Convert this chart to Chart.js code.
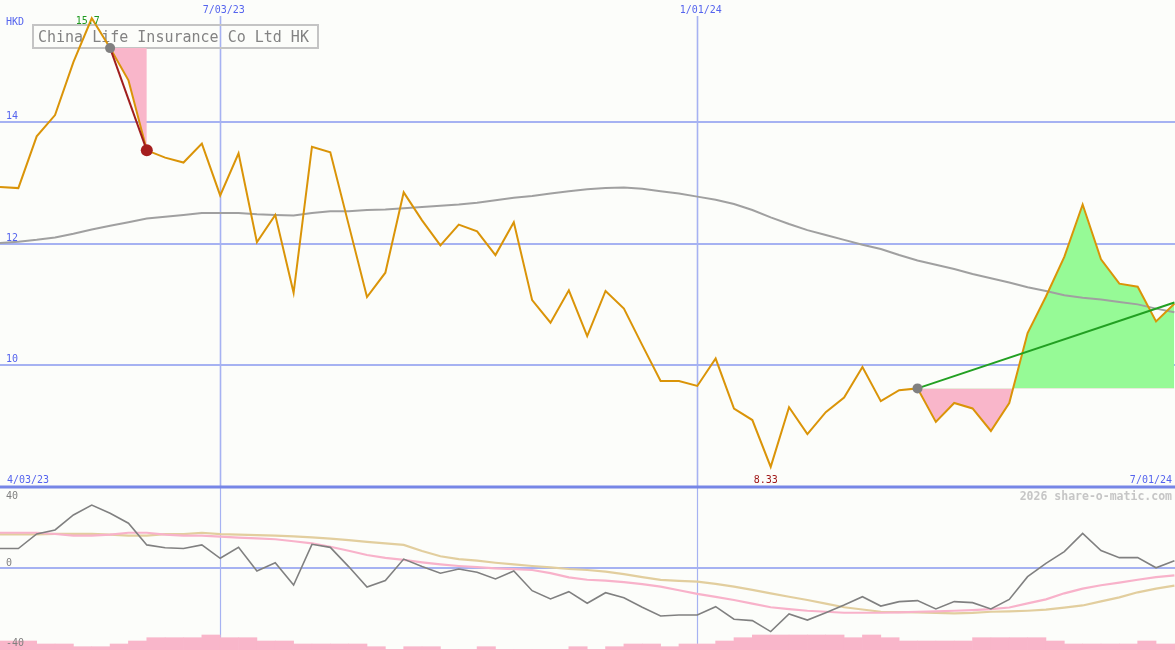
<!DOCTYPE html>
<html><head><meta charset="utf-8">
<script src="https://cdn.jsdelivr.net/npm/chart.js@4.4.1/dist/chart.umd.min.js"></script>
<style>html,body{margin:0;padding:0;background:#fcfdfa;overflow:hidden}#wrap{position:relative;width:1175px;height:650px}canvas{display:block}</style>
</head><body><div id="wrap"><canvas id="c" width="1175" height="650"></canvas></div>
<script>
// ---------- data (weekly, index 0 .. 64) ----------
const title = 'China Life Insurance Co Ltd HK';
const currency = 'HKD';
const priceValues = [12.93,12.91,13.76,14.11,14.98,15.70,15.21,14.68,13.53,13.41,
  13.33,13.64,12.79,13.48,12.02,12.47,11.19,13.59,13.50,12.31,
  11.12,11.52,12.84,12.38,11.97,12.31,12.20,11.81,12.35,11.07,
  10.70,11.23,10.48,11.22,10.93,10.33,9.74,9.74,9.66,10.11,
  9.29,9.10,8.33,9.31,8.87,9.23,9.47,9.97,9.41,9.59,
  9.62,9.07,9.38,9.29,8.92,9.38,10.53,11.13,11.78,12.64,
  11.74,11.34,11.29,10.72,11.01];
const maValues = [12.01,12.03,12.06,12.10,12.16,12.23,12.29,12.35,12.41,12.44,
  12.47,12.50,12.50,12.50,12.48,12.47,12.46,12.50,12.53,12.53,
  12.55,12.56,12.58,12.60,12.62,12.64,12.67,12.71,12.75,12.78,
  12.82,12.86,12.89,12.91,12.92,12.90,12.86,12.82,12.77,12.72,
  12.65,12.55,12.43,12.32,12.22,12.14,12.06,11.98,11.91,11.81,
  11.72,11.65,11.58,11.50,11.43,11.36,11.28,11.22,11.15,11.11,
  11.08,11.04,11.00,10.93,10.87];
const oscValues = [9.6,9.6,16.8,18.8,26.2,31.1,27.0,22.1,11.4,10.0,
  9.6,11.4,4.8,10.2,-1.5,2.6,-8.4,11.7,10.2,0.7,
  -9.4,-6.2,4.4,0.7,-2.6,-0.5,-2.1,-5.4,-1.5,-11.2,
  -15.3,-11.7,-17.4,-12.2,-14.7,-19.4,-23.7,-23.2,-23.2,-19.1,
  -25.3,-26.0,-31.4,-22.7,-25.7,-22.1,-18.3,-14.2,-18.8,-16.6,
  -16.1,-20.2,-16.6,-17.1,-20.2,-15.5,-4.3,2.3,8.1,17.1,
  8.6,5.1,5.1,0.1,3.6];
const oscFast = [17.4,17.4,17.4,16.8,16.0,16.0,16.5,17.4,17.4,16.5,
  16.0,16.0,15.5,15.0,14.6,14.2,13.2,12.2,10.5,8.5,
  6.4,5.0,4.0,2.8,1.8,1.0,0.4,-0.2,-0.6,-1.0,
  -2.5,-4.6,-5.8,-6.2,-7.0,-8.0,-9.2,-11.0,-12.8,-14.3,
  -15.8,-17.6,-19.4,-20.3,-21.1,-21.6,-22.1,-22.1,-22.1,-21.9,
  -21.6,-21.4,-21.1,-20.8,-20.3,-19.5,-17.5,-15.5,-12.5,-10.2,
  -8.5,-7.2,-5.8,-4.5,-3.6];
const oscSlow = [16.6,16.6,16.6,16.9,16.9,16.9,16.5,16.0,16.0,16.7,
  16.7,17.4,16.7,16.5,16.2,16.0,15.6,15.1,14.5,13.8,
  12.9,12.2,11.4,8.4,5.8,4.4,3.6,2.6,1.8,1.0,
  0.3,-0.5,-1.0,-1.8,-3.0,-4.5,-5.9,-6.4,-6.7,-7.8,
  -9.2,-10.8,-12.5,-14.2,-15.8,-17.6,-19.4,-20.5,-21.6,-21.8,
  -21.9,-22.2,-22.4,-22.2,-21.6,-21.4,-21.1,-20.6,-19.6,-18.5,
  -16.5,-14.5,-12.0,-10.2,-8.7];
const volumeValues = [3,3,2,2,1.1,1.1,2,3,4.1,4.1,
  4.1,5,4.1,4.1,3,3,2,2,2,2,
  1.1,0.2,1.1,1.1,0.2,0.2,1.1,0.2,0.2,0.2,
  0.2,1.1,0.2,1.1,2,2,1.1,2,2,3,
  4.1,5,5,5,5,5,4.1,5,4.1,3,
  3,3,3,4.1,4.1,4.1,4.1,3,2,2,
  2,2,3,2,2];
const dateTickLabels = ['7/03/23','1/01/24'];
const dateTickIdx = [12,38];
const startLabel = '4/03/23';
const endLabel = '7/01/24';
const priceTicks = [10,12,14];
const oscTicks = [40,0,-40];
const highLabel = '15.7', highIdx = 5;
const lowLabel = '8.33', lowIdx = 42;
const sigDownStart = 6, sigDownEnd = 8;
const sigUpStart = 50, sigUpEnd = 64, sigUpEndValue = 11.03;
const credit = '2026 share-o-matic.com';

// ---------- layout / style ----------
const W = 1175, H = 650;
const PX_PER_IDX = 18.35;
const MAIN_BOTTOM = 487;
const PRICE_TOP = 16, PRICE_BOTTOM = 8;
const OSC_ZERO_Y = 568, OSC_PX = 81/40;
const VOL_PX = 3;
const GRID = '#a6b2f2', SEP = '#7686e6', LBL = '#5564ee';
const MONO = '"DejaVu Sans Mono", "Liberation Mono", monospace';

const pts = arr => arr.map((v,i)=>({x:i,y:v}));
const sub = (arr,a,b) => arr.slice(a,b+1).map((v,k)=>({x:a+k,y:v}));

const deco = {
  id:'deco',
  beforeDatasetsDraw(chart){
    const {ctx} = chart, x = chart.scales.x, y = chart.scales.y, yo = chart.scales.yo;
    const ln = (a,b,c,d)=>{ctx.beginPath();ctx.moveTo(a,b);ctx.lineTo(c,d);ctx.stroke();};
    ctx.save();
    ctx.strokeStyle = GRID; ctx.lineWidth = 2;
    priceTicks.forEach(v=>{const p=Math.round(y.getPixelForValue(v)); ln(0,p,W,p);});
    const sepY = Math.round(y.getPixelForValue(PRICE_BOTTOM));
    dateTickIdx.forEach(i=>{
      const p = Math.round(x.getPixelForValue(i))+0.5;
      ctx.lineWidth = 1.6; ln(p,16,p,sepY);
      ctx.lineWidth = 1.2; ln(p,sepY,p,H);
    });
    ctx.lineWidth = 2;
    const z = Math.round(yo.getPixelForValue(0)); ln(0,z,W,z);
    ctx.strokeStyle = SEP; ctx.lineWidth = 3; ln(0,sepY,W,sepY);
    // title box
    ctx.strokeStyle = '#c4c4c4'; ctx.lineWidth = 2;
    ctx.strokeRect(33,25,285,23);
    ctx.fillStyle = '#838383'; ctx.font = '15px '+MONO; ctx.textBaseline = 'alphabetic'; ctx.textAlign='left';
    ctx.fillText(title,38,41.5);
    ctx.restore();
  },
  afterDatasetsDraw(chart){
    const {ctx} = chart, x = chart.scales.x, y = chart.scales.y, yo = chart.scales.yo;
    ctx.save();
    ctx.font = '10px '+MONO; ctx.textBaseline='alphabetic';
    ctx.fillStyle = LBL; ctx.textAlign='left';
    ctx.fillText(currency,6,25);
    priceTicks.forEach(v=>ctx.fillText(String(v),6,Math.round(y.getPixelForValue(v))-3));
    const sepY = y.getPixelForValue(PRICE_BOTTOM);
    ctx.fillText(startLabel,7,sepY-4);
    ctx.textAlign='right'; ctx.fillText(endLabel,W-3,sepY-4);
    ctx.textAlign='center';
    dateTickIdx.forEach((i,k)=>ctx.fillText(dateTickLabels[k],x.getPixelForValue(i)+3.5,13));
    ctx.fillStyle = '#1f9a1f';
    ctx.fillText(highLabel,x.getPixelForValue(highIdx)-4,y.getPixelForValue(priceValues[highIdx])+6);
    ctx.fillStyle = '#a01818';
    ctx.fillText(lowLabel,x.getPixelForValue(lowIdx)-5,y.getPixelForValue(priceValues[lowIdx])+16);
    ctx.fillStyle = '#808080'; ctx.textAlign='left';
    ctx.fillText('40',6,499);
    ctx.fillText('0',6,Math.round(yo.getPixelForValue(0))-2.5);
    ctx.fillText('-40',6,646);
    ctx.fillStyle = '#c6c6c6'; ctx.textAlign='right'; ctx.font='bold 11.5px '+MONO;
    ctx.fillText(credit,W-3,500);
    ctx.restore();
  }
};

const ds = [
  {type:'bar', data:volumeValues.map((v,i)=>({x:i+0.5,y:v})), yAxisID:'yv', backgroundColor:'rgb(249,182,202)', borderWidth:0, barPercentage:1, categoryPercentage:1, order:9},
  {type:'line', data:sub(priceValues,sigDownStart,sigDownEnd), fill:{target:{value:priceValues[sigDownStart]}, above:'rgb(249,182,202)', below:'rgb(249,182,202)'}, borderWidth:0, borderColor:'rgba(0,0,0,0)', pointRadius:0, tension:0, yAxisID:'y', order:8},
  {type:'line', data:sub(priceValues,sigUpStart,sigUpEnd), fill:{target:{value:priceValues[sigUpStart]}, above:'rgb(150,250,150)', below:'rgb(249,182,202)'}, borderWidth:0, borderColor:'rgba(0,0,0,0)', pointRadius:0, tension:0, yAxisID:'y', order:8},
  {type:'line', data:pts(oscSlow), borderColor:'rgb(226,206,158)', borderWidth:2.2, pointRadius:0, fill:false, yAxisID:'yo', order:6},
  {type:'line', data:pts(oscFast), borderColor:'rgb(248,178,202)', borderWidth:2.2, pointRadius:0, fill:false, yAxisID:'yo', order:5},
  {type:'line', data:pts(oscValues), borderColor:'rgb(128,128,128)', borderWidth:1.6, pointRadius:0, fill:false, yAxisID:'yo', order:4},
  {type:'line', data:pts(maValues), borderColor:'rgb(160,160,160)', borderWidth:2, pointRadius:0, fill:false, yAxisID:'y', order:4},
  {type:'line', data:pts(priceValues), borderColor:'rgb(218,148,8)', borderWidth:2, pointRadius:0, fill:false, yAxisID:'y', order:3},
  {type:'line', data:[{x:sigDownStart,y:priceValues[sigDownStart]},{x:sigDownEnd,y:priceValues[sigDownEnd]}], borderColor:'rgb(160,30,30)', borderWidth:2, pointRadius:0, fill:false, yAxisID:'y', order:2},
  {type:'line', data:[{x:sigUpStart,y:priceValues[sigUpStart]},{x:sigUpEnd,y:sigUpEndValue}], borderColor:'rgb(34,160,34)', borderWidth:2, pointRadius:0, fill:false, yAxisID:'y', order:2},
  {type:'scatter', data:[{x:sigDownStart,y:priceValues[sigDownStart]},{x:sigUpStart,y:priceValues[sigUpStart]}], pointRadius:5, pointBackgroundColor:'rgb(128,128,128)', pointBorderWidth:0, yAxisID:'y', order:1},
  {type:'scatter', data:[{x:sigDownEnd,y:priceValues[sigDownEnd]}], pointRadius:6, pointBackgroundColor:'rgb(165,30,30)', pointBorderWidth:0, yAxisID:'y', order:0}
];

const yMin = PRICE_TOP - H*(PRICE_TOP-PRICE_BOTTOM)/MAIN_BOTTOM;
new Chart(document.getElementById('c'), {
  type:'line',
  data:{datasets:ds},
  options:{
    responsive:false, animation:false, devicePixelRatio:1,
    layout:{padding:0, autoPadding:false},
    plugins:{legend:{display:false}, tooltip:{enabled:false}},
    elements:{line:{borderJoinStyle:'miter'}},
    scales:{
      x:{type:'linear', min:0, max:W/PX_PER_IDX, display:false, offset:false},
      y:{type:'linear', min:yMin, max:PRICE_TOP, display:false},
      yo:{type:'linear', min:-(H-OSC_ZERO_Y)/OSC_PX, max:OSC_ZERO_Y/OSC_PX, display:false},
      yv:{type:'linear', min:0, max:H/VOL_PX, display:false}
    }
  },
  plugins:[deco]
});
</script></body></html>
